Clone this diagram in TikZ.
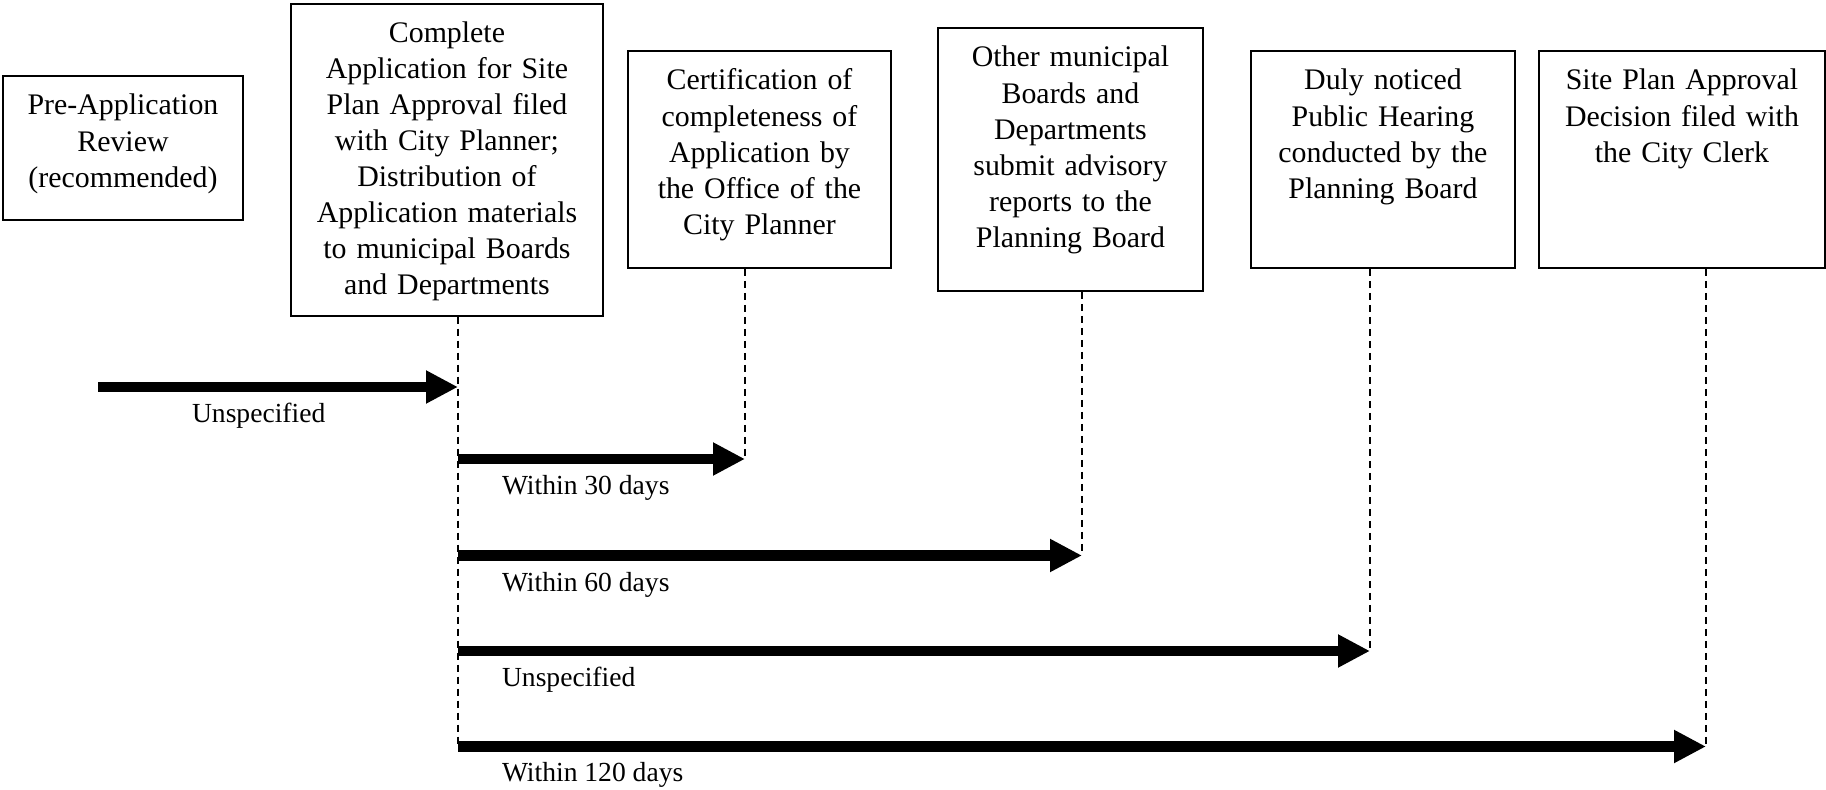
\documentclass[tikz,border=0pt]{standalone}
\usepackage{fontspec}
\setmainfont{Liberation Serif}
\usetikzlibrary{arrows.meta}
\newcommand{\boxfont}{\fontsize{17}{20.5}\selectfont}
\newcommand{\lblfont}{\fontsize{15.7}{19}\selectfont}
\begin{document}
\begin{tikzpicture}[x=0.02cm,y=-0.02cm,
	stage/.style={draw,line width=0.04cm,align=center,anchor=north west,inner xsep=0.1cm,inner ysep=0pt,text height=0.78cm,font=\boxfont},
	guide/.style={line width=0.045cm,dash pattern=on 0.14cm off 0.1cm},
	lapse/.style={line width=0.21cm,-{Triangle[length=0.64cm,width=0.62cm]}},
	lbl/.style={anchor=base west,inner sep=0pt,font=\lblfont}]
		\useasboundingbox (0,0) rectangle (1826,790);
		\node[stage,minimum width=4.8cm,text width=4.6cm,text depth=2.1cm] (pre) at (2,75) {Pre-Application\\Review\\(recommended)};
		\node[stage,minimum width=6.24cm,text width=6.04cm,text depth=5.46cm] (apply) at (290,2.7) {Complete\\Application for Site\\Plan Approval filed\\with City Planner;\\Distribution of\\Application materials\\to municipal Boards\\and Departments};
		\node[stage,minimum width=5.26cm,text width=5.06cm,text depth=3.56cm] (cert) at (627,50) {Certification of\\completeness of\\Application by\\the Office of the\\City Planner};
		\node[stage,minimum width=5.3cm,text width=5.1cm,text depth=4.48cm] (other) at (937,27) {Other municipal\\Boards and\\Departments\\submit advisory\\reports to the\\Planning Board};
		\node[stage,minimum width=5.28cm,text width=5.08cm,text depth=3.56cm] (hearing) at (1250,50) {Duly noticed\\Public Hearing\\conducted by the\\Planning Board};
		\node[stage,minimum width=5.72cm,text width=5.52cm,text depth=3.56cm] (decision) at (1538,50) {Site Plan Approval\\Decision filed with\\the City Clerk};
		\coordinate (c2) at (458,0);
		\coordinate (c3) at (745,0);
		\coordinate (c4) at (1082,0);
		\coordinate (c5) at (1370,0);
		\coordinate (c6) at (1706,0);
		\coordinate (start) at (98,387);
		\coordinate (r2) at (0,459);
		\coordinate (r3) at (0,555.5);
		\coordinate (r4) at (0,651);
		\coordinate (r5) at (0,746.5);
		\draw[guide] (apply.south -| c2) -- (r5 -| c2);
		\draw[guide] (cert.south -| c3) -- (r2 -| c3);
		\draw[guide] (other.south -| c4) -- (r3 -| c4);
		\draw[guide] (hearing.south -| c5) -- (r4 -| c5);
		\draw[guide] (decision.south -| c6) -- (r5 -| c6);
		\draw[lapse] (start) -- (start -| c2);
		\draw[lapse] (r2 -| c2) -- (r2 -| c3);
		\draw[lapse] (r3 -| c2) -- (r3 -| c4);
		\draw[lapse] (r4 -| c2) -- (r4 -| c5);
		\draw[lapse] (r5 -| c2) -- (r5 -| c6);
		\node[lbl] (l1) at (191.7,422.3) {Unspecified};
		\node[lbl] (l2) at (501.7,494.5) {Within 30 days};
		\node[lbl] (l3) at (501.7,591) {Within 60 days};
		\node[lbl] (l4) at (501.7,686.5) {Unspecified};
		\node[lbl] (l5) at (501.7,781.7) {Within 120 days};
\end{tikzpicture}
\end{document}
